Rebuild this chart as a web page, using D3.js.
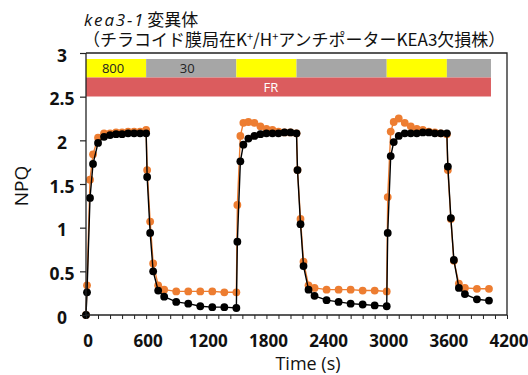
<!DOCTYPE html>
<html><head><meta charset="utf-8">
<script src="https://cdn.jsdelivr.net/npm/d3@7"></script>
<style>
html,body{margin:0;padding:0;background:#fff;}
svg{display:block;}
</style></head>
<body><svg id="c" width="528" height="375"></svg>
<script>
// ---- data ----
const times = [
  0, 10, 40, 70, 120, 180, 240, 300, 360, 420, 480, 540, 600,
  610, 640, 670, 720, 780, 900, 1020, 1140, 1260, 1380, 1500,
  1510, 1540, 1570, 1620, 1680, 1740, 1800, 1860, 1920, 1980, 2040, 2100,
  2110, 2140, 2170, 2220, 2280, 2400, 2520, 2640, 2760, 2880, 3000,
  3010, 3040, 3070, 3120, 3180, 3240, 3300, 3360, 3420, 3480, 3540, 3600,
  3610, 3640, 3670, 3720, 3780, 3900, 4020
];
const npqBlack = [
  0, 0.26, 1.34, 1.73, 1.97, 2.04, 2.06, 2.07, 2.07, 2.08, 2.08, 2.08, 2.08,
  1.58, 0.94, 0.50, 0.28, 0.21, 0.15, 0.13, 0.10, 0.09, 0.09, 0.08,
  0.84, 1.76, 1.95, 2.02, 2.05, 2.07, 2.08, 2.08, 2.08, 2.09, 2.09, 2.08,
  1.66, 1.04, 0.56, 0.29, 0.22, 0.17, 0.15, 0.13, 0.12, 0.11, 0.10,
  0.94, 1.82, 1.98, 2.05, 2.08, 2.08, 2.08, 2.09, 2.09, 2.08, 2.08, 2.08,
  1.70, 1.11, 0.63, 0.31, 0.24, 0.18, 0.165
];
const npqOrange = [
  0, 0.34, 1.55, 1.84, 2.03, 2.08, 2.08, 2.09, 2.09, 2.10, 2.10, 2.10, 2.12,
  1.66, 1.07, 0.59, 0.34, 0.29, 0.27, 0.27, 0.27, 0.27, 0.26, 0.26,
  1.26, 2.05, 2.20, 2.21, 2.20, 2.16, 2.13, 2.12, 2.10, 2.09, 2.09, 2.08,
  1.66, 1.10, 0.61, 0.34, 0.31, 0.29, 0.29, 0.29, 0.28, 0.28, 0.27,
  1.35, 2.10, 2.21, 2.25, 2.20, 2.16, 2.13, 2.12, 2.10, 2.09, 2.08, 2.07,
  1.66, 1.10, 0.62, 0.36, 0.31, 0.30, 0.30
];
// light schedule
const phaseStart = [0, 600, 1500, 2100, 3000, 3600];
const phaseEnd   = [600, 1500, 2100, 3000, 3600, 4040];
const phaseType  = ["high", "low", "high", "low", "high", "low"];
const phaseLabel = ["800", "30", "", "", "", ""];
const frStart = 0, frEnd = 4040, frLabel = "FR", frLabelAt = 1845;
const xTicks = [0, 600, 1200, 1800, 2400, 3000, 3600, 4200];
const yTicks = [0, 0.5, 1, 1.5, 2, 2.5, 3];
const titleLine1Italic = "kea3-1";
const titleLine1Rest = "変異体";

// ---- layout ----
const svg = d3.select("#c");
const L = 86, R = 507, T = 53, B = 315;
const x = d3.scaleLinear().domain([0, 4200]).range([L, R]);
const y = d3.scaleLinear().domain([0, 3]).range([B, T]);
const cjk = "'Noto Sans CJK JP', 'Noto Sans', sans-serif";
const latin = "'Open Sans', 'Noto Sans', sans-serif";

// title
const t1 = svg.append("text").attr("x", 84).attr("y", 26)
  .attr("font-family", cjk).attr("font-size", 17).attr("fill", "#111");
t1.append("tspan").attr("font-style", "italic").attr("font-family", latin)
  .attr("letter-spacing", 1.8).text(titleLine1Italic);
t1.append("tspan").attr("dx", 2).text(titleLine1Rest);
const t2 = svg.append("text").attr("x", 83).attr("y", 46)
  .attr("font-family", cjk).attr("font-size", 17).attr("fill", "#111");
t2.append("tspan").text("（チラコイド膜局在K");
t2.append("tspan").attr("font-size", 11).attr("dy", -5).text("+");
t2.append("tspan").attr("dy", 5).text("/H");
t2.append("tspan").attr("font-size", 11).attr("dy", -5).text("+");
t2.append("tspan").attr("dy", 5).text("アンチポーターKEA3欠損株）");

// light bars
const rowTop = 59, rowMid = 77.5, rowBot = 96.5;
svg.selectAll("rect.ph").data(phaseStart).join("rect")
  .attr("x", (d) => x(d))
  .attr("width", (d, i) => x(phaseEnd[i]) - x(d))
  .attr("y", rowTop).attr("height", rowMid - rowTop)
  .attr("fill", (d, i) => phaseType[i] === "high" ? "#ffff00" : "#a6a6a6");
svg.selectAll("text.ph").data(phaseStart).join("text")
  .attr("x", (d, i) => (x(d) + x(phaseEnd[i])) / 2 - (i === 1 ? 4 : 3))
  .attr("y", (rowTop + rowMid) / 2 + 4.5)
  .attr("text-anchor", "middle").attr("font-family", latin).attr("font-size", 13)
  .attr("fill", "#222").text((d, i) => phaseLabel[i]);
svg.append("rect").attr("x", x(frStart)).attr("width", x(frEnd) - x(frStart))
  .attr("y", rowMid).attr("height", rowBot - rowMid).attr("fill", "#db5c5e");
svg.append("text").attr("x", x(frLabelAt)).attr("y", (rowMid + rowBot) / 2 + 4.5)
  .attr("text-anchor", "middle").attr("font-family", latin).attr("font-size", 13)
  .attr("fill", "#fff").text(frLabel);

// frame (top & right)
svg.append("path").attr("d", `M${L},${T}H${R}V${B}`)
  .attr("fill", "none").attr("stroke", "#222").attr("stroke-width", 1.3);

// series
const pts = (vals) => times.map((t, i) => [t, vals[i]]);
const line = d3.line().x((d) => x(d[0])).y((d) => y(d[1]));
const series = [
  { vals: npqOrange, color: "#ed7d31" },
  { vals: npqBlack, color: "#000000" }
];
series.forEach((s) => {
  const g = svg.append("g");
  g.append("path").datum(pts(s.vals)).attr("d", line)
    .attr("fill", "none").attr("stroke", s.color).attr("stroke-width", 1.4);
  g.selectAll("circle").data(pts(s.vals)).join("circle")
    .attr("cx", (d) => x(d[0])).attr("cy", (d) => y(d[1])).attr("r", 3.9)
    .attr("fill", s.color);
});

// axes
const xAxis = d3.axisBottom(x).tickValues(d3.range(0, 4201, 120))
  .tickSize(4).tickFormat("");
const gx = svg.append("g").attr("transform", `translate(0,${B})`).call(xAxis);
gx.select(".domain").attr("d", `M${L},0H${R}`).attr("stroke", "#222").attr("stroke-width", 1.3);
gx.selectAll(".tick line").attr("stroke", "#222").attr("stroke-width", 1);
svg.append("g").selectAll("text").data(xTicks).join("text")
  .attr("x", (d) => x(d) + 2).attr("y", B + 32)
  .attr("text-anchor", "middle").attr("font-family", latin).attr("font-weight", 700)
  .attr("font-size", 17).attr("fill", "#111").text((d) => d);

const yAxis = d3.axisLeft(y).tickValues(yTicks).tickSize(6).tickFormat("");
const gy = svg.append("g").attr("transform", `translate(${L},0)`).call(yAxis);
gy.select(".domain").attr("d", `M0,${B}V${T}`).attr("stroke", "#222").attr("stroke-width", 1.3);
gy.selectAll(".tick line").attr("stroke", "#222").attr("stroke-width", 1.2);
svg.append("g").selectAll("text").data(yTicks).join("text")
  .attr("x", 62).attr("y", (d) => y(d) + 8.5)
  .attr("text-anchor", "middle").attr("font-family", latin).attr("font-weight", 700)
  .attr("font-size", 17.5).attr("fill", "#111").text((d) => d);

// axis titles
svg.append("text").attr("x", 308).attr("y", 370)
  .attr("text-anchor", "middle").attr("font-family", latin).attr("font-size", 18)
  .attr("fill", "#111").text("Time (s)");
svg.append("text").attr("transform", "translate(28,186) rotate(-90)")
  .attr("text-anchor", "middle").attr("font-family", latin).attr("font-size", 19)
  .attr("fill", "#111").text("NPQ");
</script></body></html>
